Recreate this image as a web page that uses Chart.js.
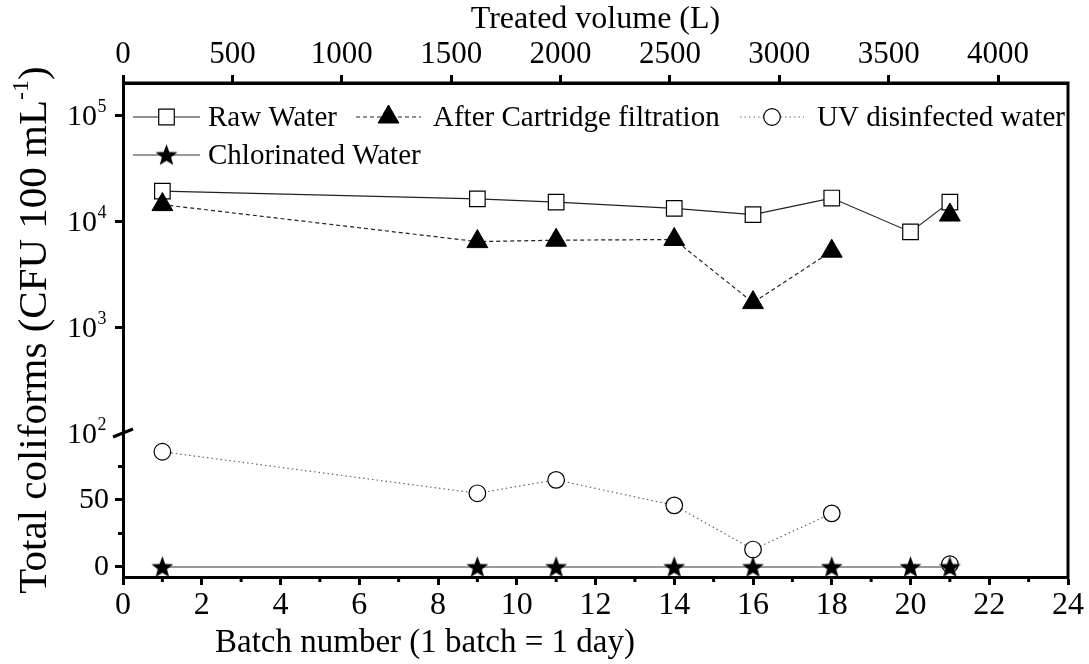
<!DOCTYPE html>
<html>
<head>
<meta charset="utf-8">
<script src="https://cdn.jsdelivr.net/npm/chart.js@4.4.1/dist/chart.umd.min.js"></script>
<style>
  html, body { margin: 0; padding: 0; background: #fff; }
</style>
</head>
<body>
<canvas id="chart" width="1089" height="664"></canvas>
<script>
// data
const batches = [1, 9, 11, 14, 16, 18, 20, 21];
const rawWater = [19200, 16200, 15100, 13200, 11500, 16500, 7900, 15100];
const afterCartridge = [14300, 6400, 6600, 6700, 1700, 5200, null, 11400];
const uvWater = [86, 55, 65, 46, 13, 40, null, 2];
const chlorinated = [0, 0, 0, 0, 0, 0, 0, 0];

// tick labels
const batchTicks = [0, 2, 4, 6, 8, 10, 12, 14, 16, 18, 20, 22, 24];
const volumeTicks = [0, 500, 1000, 1500, 2000, 2500, 3000, 3500, 4000];
const logTicks = [1e3, 1e4, 1e5];
const linTicks = [0, 50];

const FONT = '"Liberation Serif", "Times New Roman", serif';
Chart.defaults.font.family = FONT;
Chart.defaults.color = "#000";

// filled star marker
function makeStar(r) {
  const c = document.createElement("canvas");
  const s = Math.ceil(r * 2 + 2);
  c.width = s;
  c.height = s;
  const g = c.getContext("2d");
  g.fillStyle = "#000";
  g.beginPath();
  for (let i = 0; i < 10; i++) {
    const rad = i % 2 === 0 ? r : r * 0.42;
    const a = -Math.PI / 2 + (i * Math.PI) / 5;
    g.lineTo(s / 2 + rad * Math.cos(a), s / 2 + rad * Math.sin(a) + 0.8);
  }
  g.closePath();
  g.fill();
  return c;
}
const star = makeStar(11.5);

const toPoints = (ys) => batches.map((b, i) => ({ x: b, y: ys[i] }));

const series = [
  {
    label: "Raw Water",
    data: toPoints(rawWater),
    yAxisID: "yLog",
    borderColor: "#222",
    borderWidth: 1.2,
    pointStyle: "rect",
    pointRadius: 11,
    pointBackgroundColor: "#fff",
    pointBorderColor: "#000",
    pointBorderWidth: 1.2,
    order: 4,
  },
  {
    label: "After Cartridge filtration",
    data: toPoints(afterCartridge),
    yAxisID: "yLog",
    borderColor: "#222",
    borderWidth: 1.2,
    borderDash: [4, 3],
    pointStyle: "triangle",
    pointRadius: 12,
    pointBackgroundColor: "#000",
    pointBorderColor: "#000",
    pointBorderWidth: 1,
    order: 3,
  },
  {
    label: "UV disinfected water",
    data: toPoints(uvWater),
    yAxisID: "yLin",
    borderColor: "#666",
    borderWidth: 1.2,
    borderDash: [1.5, 3],
    pointStyle: "circle",
    pointRadius: 8.3,
    pointBackgroundColor: "#fff",
    pointBorderColor: "#000",
    pointBorderWidth: 1.2,
    order: 2,
  },
  {
    label: "Chlorinated Water",
    data: toPoints(chlorinated),
    yAxisID: "yLin",
    borderColor: "#777",
    borderWidth: 1.5,
    pointStyle: star,
    pointRadius: 11.5,
    order: 1,
  },
];

// everything Chart.js does not draw by itself: frame, break, superscripts, legend
const extras = {
  id: "extras",
  afterDraw(chart) {
    const { ctx, chartArea: a, scales } = chart;
    const x = scales.x, yLog = scales.yLog, yLin = scales.yLin;
    ctx.save();
    ctx.fillStyle = "#000";
    ctx.strokeStyle = "#000";

    // minor ticks
    ctx.lineWidth = 3;
    ctx.beginPath();
    for (let v = 1; v < 24; v += 2) {
      const px = x.getPixelForValue(v);
      ctx.moveTo(px, a.bottom);
      ctx.lineTo(px, a.bottom + 5);
    }
    [25, 75].forEach((v) => {
      const py = yLin.getPixelForValue(v);
      ctx.moveTo(a.left, py);
      ctx.lineTo(a.left - 5, py);
    });
    ctx.stroke();

    // log tick labels with superscripts
    const yBreak = yLog.bottom;
    const exps = [[2, yBreak], ...logTicks.map((v) => [Math.round(Math.log10(v)), yLog.getPixelForValue(v)])];
    exps.forEach(([e, py]) => {
      ctx.font = "30px " + FONT;
      ctx.textAlign = "right";
      ctx.textBaseline = "middle";
      ctx.fillText("10", 97, py + 2);
      ctx.font = "18px " + FONT;
      ctx.textAlign = "left";
      ctx.fillText(String(e), 97.5, py - 8);
    });

    // axis break mark
    ctx.lineWidth = 3;
    ctx.beginPath();
    ctx.moveTo(a.left - 10, yBreak + 4);
    ctx.lineTo(a.left + 10, yBreak - 4);
    ctx.stroke();

    // y title
    ctx.save();
    ctx.translate(35, (a.top + a.bottom) / 2);
    ctx.rotate(-Math.PI / 2);
    ctx.textBaseline = "middle";
    ctx.textAlign = "left";
    const main = "Total coliforms (CFU 100 mL";
    ctx.font = "41px " + FONT;
    const w1 = ctx.measureText(main).width;
    const w3 = ctx.measureText(")").width;
    ctx.font = "24px " + FONT;
    const w2 = ctx.measureText("-1").width;
    let tx = -(w1 + w2 + w3) / 2;
    ctx.font = "41px " + FONT;
    ctx.fillText(main, tx, 0);
    ctx.font = "24px " + FONT;
    ctx.fillText("-1", tx + w1, -13);
    ctx.font = "41px " + FONT;
    ctx.fillText(")", tx + w1 + w2, 0);
    ctx.restore();

    // bottom title
    ctx.font = "33px " + FONT;
    ctx.textAlign = "left";
    ctx.textBaseline = "middle";
    ctx.fillText("Batch number (1 batch = 1 day)", 215, 643);

    // legend
    const entries = [
      { ds: 0, x0: 133, x1: 200, ty: 117, tx: 208 },
      { ds: 1, x0: 356, x1: 421, ty: 117, tx: 433 },
      { ds: 2, x0: 740, x1: 804, ty: 117, tx: 817 },
      { ds: 3, x0: 133, x1: 200, ty: 155, tx: 208 },
    ];
    entries.forEach((en) => {
      const d = chart.data.datasets[en.ds];
      ctx.save();
      ctx.strokeStyle = d.borderColor;
      ctx.lineWidth = d.borderWidth;
      ctx.setLineDash(d.borderDash || []);
      ctx.beginPath();
      ctx.moveTo(en.x0, en.ty);
      ctx.lineTo(en.x1, en.ty);
      ctx.stroke();
      ctx.restore();
      ctx.save();
      ctx.fillStyle = d.pointBackgroundColor || "#000";
      ctx.strokeStyle = d.pointBorderColor || "#000";
      ctx.lineWidth = d.pointBorderWidth || 0;
      Chart.helpers.drawPoint(
        ctx,
        { pointStyle: d.pointStyle, radius: d.pointRadius, borderWidth: d.pointBorderWidth || 0, rotation: 0 },
        (en.x0 + en.x1) / 2,
        en.ty
      );
      ctx.restore();
      ctx.font = "29px " + FONT;
      ctx.textAlign = "left";
      ctx.textBaseline = "middle";
      ctx.fillStyle = "#000";
      ctx.fillText(d.label, en.tx, en.ty + 1);
    });

    // top and right frame
    ctx.lineWidth = 3;
    ctx.setLineDash([]);
    ctx.beginPath();
    ctx.moveTo(a.left, a.top);
    ctx.lineTo(a.right, a.top);
    ctx.lineTo(a.right, a.bottom + 1.5);
    ctx.stroke();
    ctx.restore();
  },
};

const axisGrid = { drawOnChartArea: false, tickLength: 8, tickWidth: 3, tickColor: "#000" };
const axisBorder = { display: true, width: 3, color: "#000" };
const plainNumber = (v) => String(v);

new Chart(document.getElementById("chart").getContext("2d"), {
  type: "line",
  data: { datasets: series },
  options: {
    responsive: false,
    animation: false,
    layout: { padding: { left: 0, right: 21, top: 0, bottom: 0 } },
    plugins: { legend: { display: false }, tooltip: { enabled: false } },
    elements: { line: { tension: 0 } },
    scales: {
      x: {
        type: "linear",
        position: "bottom",
        min: 0,
        max: 24,
        grid: axisGrid,
        border: axisBorder,
        ticks: { font: { size: 32 }, padding: 1, maxRotation: 0, callback: plainNumber },
        afterBuildTicks: (s) => { s.ticks = batchTicks.map((v) => ({ value: v })); },
        afterFit: (s) => { s.height = 87; },
      },
      xTop: {
        type: "linear",
        position: "top",
        min: 0,
        max: 4320,
        grid: axisGrid,
        border: axisBorder,
        ticks: { font: { size: 31 }, padding: 2, maxRotation: 0, callback: plainNumber },
        title: { display: true, text: "Treated volume (L)", font: { size: 32 }, padding: { top: 0, bottom: 0 } },
        afterBuildTicks: (s) => { s.ticks = volumeTicks.map((v) => ({ value: v })); },
        afterFit: (s) => { s.height = 83; },
      },
      yLin: {
        type: "linear",
        position: "left",
        stack: "y",
        stackWeight: 144,
        min: -7.5,
        max: 100,
        grid: axisGrid,
        border: axisBorder,
        ticks: { font: { size: 30 }, padding: 6, callback: plainNumber },
        afterBuildTicks: (s) => { s.ticks = linTicks.map((v) => ({ value: v })); },
        afterFit: (s) => { s.width = 123; },
      },
      yLog: {
        type: "logarithmic",
        position: "left",
        stack: "y",
        stackWeight: 350,
        min: 100,
        max: 201000,
        grid: axisGrid,
        border: axisBorder,
        ticks: { display: false },
        afterBuildTicks: (s) => { s.ticks = logTicks.map((v) => ({ value: v })); },
        afterFit: (s) => { s.width = 123; },
      },
    },
  },
  plugins: [extras],
});
</script>
</body>
</html>
